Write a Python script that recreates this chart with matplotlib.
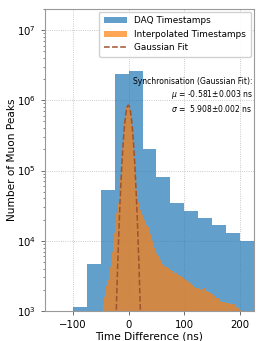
import numpy as np
import matplotlib
matplotlib.use('Agg')
import matplotlib.pyplot as plt

# ── Data ──────────────────────────────────────────────────
# DAQ timestamps: 25 ns bins
daq_edges = [-100, -75, -50, -25, 0, 25, 50, 75, 100, 125, 150, 175, 200, 225]
daq_counts = [1.13e3, 4.6e3, 5.2e4, 2.4e6, 2.6e6, 2.05e5, 8.0e4,
              3.4e4, 2.65e4, 2.1e4, 1.65e4, 1.3e4, 1.0e4]

# Interpolated timestamps: 2 ns bins from -48 to 208 ns
interp_lo, interp_hi, interp_w = -48, 208, 2
interp_counts = [
    1.0e3, 1.3e3, 1.6e3, 1.9e3, 2.3e3, 2.8e3, 3.4e3, 4.2e3, 5.3e3, 7.0e3,
    9.5e3, 1.3e4, 1.8e4, 2.5e4, 3.5e4, 5.0e4, 7.5e4, 1.2e5, 2.0e5, 3.2e5,
    4.9e5, 6.5e5, 7.9e5, 8.5e5, 8.2e5, 7.3e5, 5.9e5, 4.2e5, 2.6e5, 1.5e5,
    8.5e4, 5.2e4, 3.6e4, 3.0e4, 2.7e4, 2.5e4, 2.3e4, 2.1e4, 2.0e4, 1.85e4,
    1.7e4, 1.55e4, 1.4e4, 1.25e4, 1.1e4, 9.8e3, 8.8e3, 8.0e3, 7.2e3, 6.6e3,
    6.1e3, 5.7e3, 5.3e3, 5.0e3, 4.7e3, 4.5e3, 4.3e3, 4.2e3, 4.1e3, 4.05e3,
    3.95e3, 3.85e3, 3.75e3, 3.65e3, 3.6e3, 3.5e3, 3.45e3, 3.4e3, 3.3e3, 3.2e3,
    3.15e3, 3.05e3, 3.0e3, 2.9e3, 2.85e3, 2.75e3, 2.7e3, 2.6e3, 2.55e3, 2.5e3,
    2.4e3, 2.35e3, 2.3e3, 2.2e3, 2.15e3, 2.1e3, 2.1e3, 2.05e3, 2.0e3, 2.0e3,
    2.05e3, 1.95e3, 2.1e3, 1.9e3, 2.0e3, 1.85e3, 1.9e3, 1.8e3, 1.7e3, 1.75e3,
    1.6e3, 1.65e3, 1.55e3, 1.5e3, 1.55e3, 1.45e3, 1.4e3, 1.45e3, 1.35e3, 1.4e3,
    1.35e3, 1.3e3, 1.35e3, 1.3e3, 1.35e3, 1.25e3, 1.3e3, 1.25e3, 1.2e3, 1.25e3,
    1.15e3, 1.2e3, 1.1e3, 1.1e3, 1.05e3, 1.02e3, 0.95e3, 0.9e3,
]

# Gaussian fit parameters
fit_amp = 8.5e5
fit_mu, fit_mu_err = -0.581, 0.003
fit_sigma, fit_sigma_err = 5.908, 0.002

# ── Plot ──────────────────────────────────────────────────
fig = plt.figure(figsize=(2.67, 3.41), dpi=100)
ax = fig.add_axes([0.169, 0.088, 0.782, 0.886])

ax.stairs(daq_counts, daq_edges, fill=True, color='C0', alpha=0.7,
          label='DAQ Timestamps', baseline=1)
interp_edges = np.arange(interp_lo, interp_hi + interp_w, interp_w)
ax.stairs(interp_counts, interp_edges, fill=True, color='C1', alpha=0.7,
          label='Interpolated Timestamps', baseline=1)

xf = np.linspace(-30, 30, 400)
yf = fit_amp * np.exp(-(xf - fit_mu) ** 2 / (2 * fit_sigma ** 2))
ax.plot(xf, yf, '--', color='#a0522d', lw=1.1, label='Gaussian Fit')

ax.set_yscale('log')
ax.set_xlim(-150, 225)
ax.set_ylim(1e3, 2e7)
ax.grid(True, which='major', ls=':', lw=0.6, color='#bbbbbb')
ax.set_axisbelow(True)
for s in ax.spines.values():
    s.set_color('#999999')
ax.tick_params(labelsize=7.3, length=3, width=0.6, color='#555555')
ax.tick_params(which='minor', length=1.5, width=0.5, color='#555555')

ax.set_xlabel('Time Difference (ns)', fontsize=7.6, labelpad=1)
ax.set_ylabel('Number of Muon Peaks', fontsize=7.6)
ax.yaxis.set_label_coords(-0.135, 0.5)

ax.legend(loc='upper right', fontsize=6.4, frameon=True, framealpha=0.9,
          borderpad=0.55, labelspacing=0.5, handlelength=2.6,
          borderaxespad=0.3)

ax.text(0.995, 0.775,
        'Synchronisation (Gaussian Fit):\n'
        f'$\\mu$ = {fit_mu:.3f}$\\pm${fit_mu_err:.3f} ns\n'
        f'$\\sigma$ =  {fit_sigma:.3f}$\\pm${fit_sigma_err:.3f} ns',
        transform=ax.transAxes, ha='right', va='top', fontsize=5.5,
        linespacing=1.25)

fig.savefig('out.png', dpi=100)
